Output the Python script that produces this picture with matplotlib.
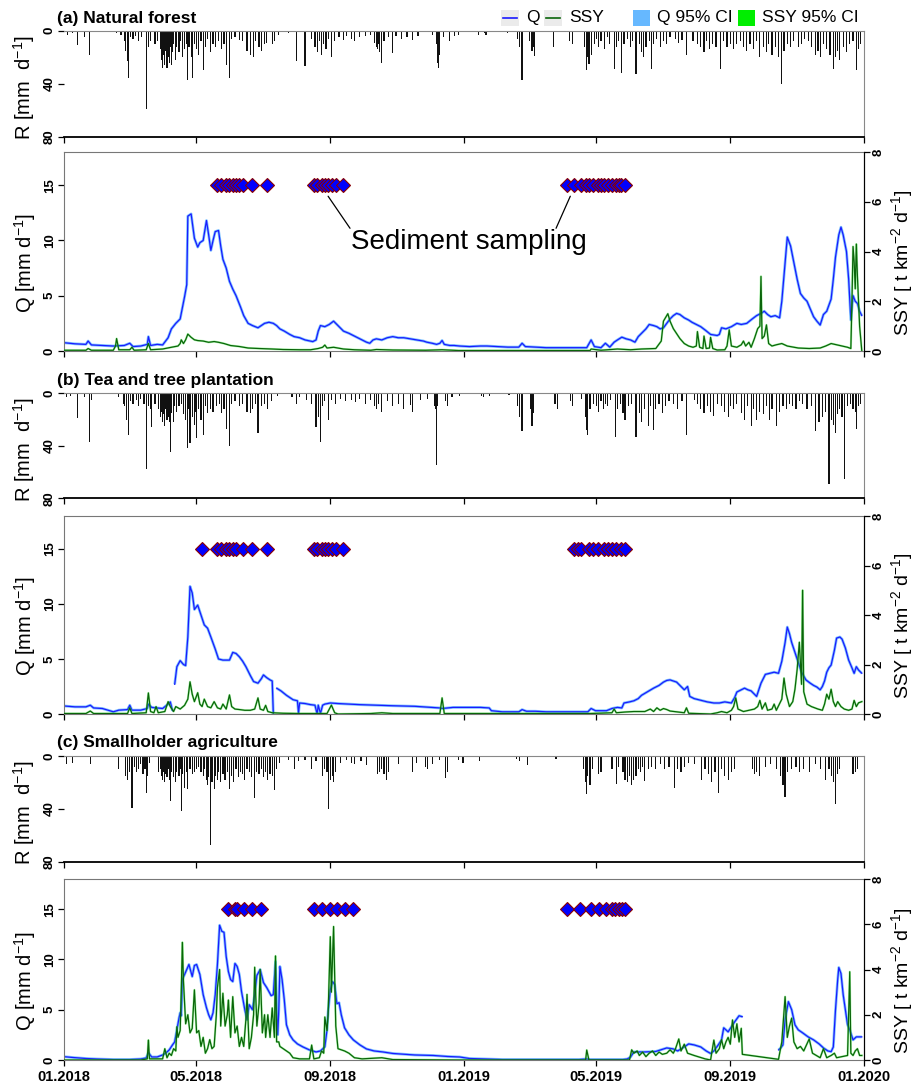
import numpy as np
import matplotlib
matplotlib.use('Agg')
import matplotlib.pyplot as plt
import matplotlib.dates as mdates
from matplotlib.lines import Line2D
from matplotlib.patches import Rectangle

plt.rcParams['font.family'] = ['Liberation Sans', 'DejaVu Sans']
plt.rcParams['mathtext.fontset'] = 'custom'
plt.rcParams['mathtext.rm'] = 'Liberation Sans'
plt.rcParams['mathtext.it'] = 'Liberation Sans:italic'
plt.rcParams['mathtext.bf'] = 'Liberation Sans:bold'

# ---------------- data: (day since 01.01.2018, value) ----------------
titles = ['(a) Natural forest', '(b) Tea and tree plantation', '(c) Smallholder agriculture']

rain_a = [(3,3),(8,2),(12,11),(19,5),(23,18),(48,2),(52,3),(55,8),(56,15),(58,23),(59,36),(61,5),(63,6),(65,4),(68,8),(71,5),
          (75,59),(77,12),(79,8),(83,10),(85,8),(88,14),(89,22),(90,28),(91,18),(92,26),(93,15),(94,28),(95,20),(96,24),(97,12),
          (98,26),(99,16),(100,10),(102,22),(103,12),(105,16),(106,8),(108,20),(110,14),(112,10),(113,37),(114,12),(116,20),
          (117,36),(119,10),(121,14),(123,18),(125,8),(127,30),(129,12),(131,6),(134,16),(136,10),(138,12),(141,8),(144,14),
          (146,10),(148,26),(151,36),(153,6),(156,5),(160,7),(163,8),(167,15),(170,18),(173,20),(175,8),(178,12),(180,15),
          (183,10),(185,9),(190,10),(192,8),(196,3),(205,2),(212,23),(220,27),(226,6),(229,12),(231,16),(233,8),(235,18),
          (237,10),(239,14),(241,6),(244,20),(247,8),(251,5),(255,7),(258,4),(262,6),(265,8),(270,5),(275,4),(280,3),(283,9),
          (285,12),(286,14),(287,10),(288,16),(290,24),(292,8),(296,5),(300,17),(303,4),(308,6),(313,5),(318,7),(323,4),
          (336,3),(340,10),(341,24),(342,28),(343,18),(346,5),(352,8),(356,4),(360,3),(378,3),(384,2),(385,3),(400,1),(405,2),
          (414,6),(416,12),(418,37),(425,8),(427,15),(428,12),(429,19),(447,12),(461,8),(464,10),(475,12),(477,30),(478,20),
          (479,25),(481,18),(484,10),(486,6),(488,12),(490,8),(493,14),(496,5),(498,10),(502,29),(504,12),(506,8),(509,32),
          (511,10),(514,6),(517,12),(519,8),(522,33),(525,10),(527,16),(529,20),(531,12),(534,8),(536,29),(538,10),(541,6),
          (544,12),(547,8),(550,10),(553,5),(558,6),(561,9),(564,7),(568,18),(574,8),(578,10),(581,12),(584,16),(586,8),
          (589,14),(592,10),(595,12),(599,29),(602,8),(605,12),(608,10),(611,14),(614,10),(617,8),(620,12),(623,15),(626,10),
          (629,14),(632,8),(635,20),(638,12),(641,16),(643,10),(646,18),(649,12),(652,20),(655,40),(657,15),(660,10),(663,12),
          (666,8),(670,12),(673,10),(676,6),(679,8),(682,12),(686,18),(688,15),(690,20),(693,10),(696,14),(699,18),(702,29),
          (704,20),(706,15),(708,22),(711,12),(714,16),(717,10),(720,8),(723,30),(725,14),(727,10)]

rain_b = [(2,3),(6,2),(12,19),(19,3),(23,37),(25,5),(50,3),(54,8),(55,10),(57,20),(59,32),(61,6),(63,8),(66,5),(68,10),(70,4),
          (73,8),(75,58),(77,10),(79,12),(80,26),(83,8),(86,12),(88,18),(89,14),(90,22),(91,16),(92,25),(93,12),(94,20),(95,18),
          (96,22),(97,45),(98,15),(100,22),(101,10),(103,14),(105,10),(107,8),(109,16),(111,20),(113,42),(114,12),(115,38),
          (117,18),(119,24),(120,14),(121,34),(123,12),(125,20),(127,32),(129,10),(131,15),(134,12),(136,14),(139,10),(142,8),
          (144,15),(146,12),(148,27),(151,40),(153,8),(156,6),(160,10),(163,8),(167,14),(170,15),(172,12),(175,8),(177,30),
          (180,10),(183,8),(186,12),(189,6),(195,2),(208,3),(212,8),(215,3),(221,5),(226,8),(230,26),(232,18),(234,37),(236,10),
          (238,6),(241,20),(244,5),(248,8),(252,4),(257,6),(262,5),(266,7),(270,4),(275,8),(280,5),(283,10),(285,12),(287,8),
          (290,14),(295,6),(300,10),(305,8),(310,12),(316,9),(318,14),(325,5),(332,4),(338,10),(339,12),(340,55),(341,10),
          (348,6),(350,10),(354,3),(361,2),(381,2),(383,3),(388,2),(406,1),(414,10),(416,18),(418,29),(426,12),(427,25),(428,15),
          (448,8),(450,12),(462,6),(464,10),(472,4),(476,18),(477,28),(478,32),(480,12),(483,8),(486,10),(488,14),(490,6),
          (492,12),(494,8),(496,10),(499,5),(503,33),(505,12),(508,8),(510,15),(512,20),(515,10),(518,8),(522,33),(525,15),
          (527,22),(530,12),(533,25),(535,10),(538,28),(540,12),(543,8),(546,15),(549,10),(552,6),(556,8),(560,12),(564,6),
          (568,32),(575,5),(578,8),(581,12),(584,15),(587,10),(590,14),(593,17),(596,8),(600,10),(603,14),(606,18),(608,10),
          (611,12),(614,8),(618,15),(621,20),(624,10),(627,25),(629,12),(632,20),(635,14),(638,16),(641,10),(644,20),(646,12),
          (650,25),(653,14),(656,10),(659,12),(662,8),(665,10),(668,12),(671,6),(674,8),(678,12),(682,10),(686,29),(689,22),
          (692,18),(695,14),(698,69),(700,20),(702,24),(704,30),(706,16),(708,12),(710,18),(712,65),(715,10),(718,8),(720,12),
          (722,14),(723,27),(725,10),(727,8)]

rain_c = [(2,6),(8,5),(24,6),(50,10),(56,15),(58,18),(60,12),(62,39),(64,8),(66,12),(68,10),(70,6),(72,14),(74,10),(75,28),
          (76,15),(78,5),(86,12),(88,10),(89,15),(90,18),(91,12),(92,20),(93,14),(94,16),(95,10),(96,18),(97,34),(98,12),
          (100,16),(102,20),(103,12),(105,15),(106,10),(107,42),(108,14),(110,24),(112,12),(113,25),(115,10),(117,14),(119,12),
          (121,10),(123,8),(125,12),(127,15),(128,10),(130,18),(131,22),(132,16),(134,67),(135,20),(137,25),(138,15),(140,18),
          (141,12),(143,20),(145,14),(147,18),(149,12),(151,25),(153,15),(155,20),(157,10),(159,16),(161,12),(163,14),(165,18),
          (167,10),(169,12),(171,16),(174,32),(176,12),(178,14),(180,10),(182,16),(184,12),(186,18),(188,14),(190,15),(192,26),
          (194,10),(197,5),(205,3),(210,10),(214,4),(220,3),(226,10),(230,4),(236,15),(238,10),(240,12),(241,40),(243,18),
          (245,15),(246,20),(248,12),(252,5),(258,3),(262,5),(265,6),(271,4),(276,7),(286,14),(288,12),(290,10),(292,14),
          (294,18),(296,12),(305,6),(318,12),(322,5),(330,8),(332,10),(336,6),(343,3),(348,17),(350,12),(360,3),(364,5),(379,4),
          (413,2),(416,4),(423,7),(449,2),(474,10),(476,20),(477,29),(478,15),(480,22),(482,10),(488,14),(490,12),(500,10),
          (504,21),(506,8),(510,12),(512,18),(514,20),(516,15),(518,22),(520,18),(522,15),(524,10),(526,12),(528,8),(530,19),
          (533,10),(536,8),(540,10),(544,6),(548,10),(552,8),(557,24),(560,10),(563,12),(566,8),(570,5),(575,6),(582,18),
          (585,10),(588,14),(591,20),(594,12),(597,28),(600,10),(603,15),(606,18),(609,12),(612,10),(628,10),(630,14),(632,12),
          (635,15),(640,8),(645,6),(650,10),(654,15),(656,22),(658,31),(660,12),(664,10),(668,8),(671,12),(675,10),(680,12),
          (686,6),(690,10),(695,18),(698,10),(700,15),(702,20),(704,36),(706,14),(708,10),(720,14),(722,12),(724,10)]

q_a = [(0,0.75),(10,0.65),(20,0.6),(22,0.9),(25,0.55),(35,0.5),(45,0.45),(55,0.5),(60,0.7),(63,0.4),(70,0.45),(76,0.6),
       (77,1.3),(79,0.5),(85,0.6),(90,0.55),(95,1.2),(98,2.0),(102,2.5),(106,2.9),(108,3.9),(110,4.9),(112,6.0),(113,12.2),
       (116,12.4),(119,10.2),(122,9.4),(124,9.8),(127,10.0),(130,11.8),(132,10.5),(134,9.1),(136,10.0),(138,10.8),(141,10.9),
       (143,9.5),(145,8.3),(148,7.5),(151,6.3),(154,5.6),(157,5.0),(161,4.0),(164,3.2),(168,2.5),(172,2.3),(177,2.1),(180,2.3),
       (183,2.5),(187,2.6),(191,2.5),(194,2.3),(197,2.0),(201,1.8),(206,1.5),(210,1.3),(215,1.2),(220,1.0),(227,0.85),(230,1.0),
       (232,1.8),(234,2.3),(238,2.2),(242,2.4),(246,2.7),(250,2.3),(255,1.8),(260,1.6),(264,1.4),(268,1.2),(272,1.0),(276,0.8),
       (279,0.7),(282,1.0),(285,1.1),(290,1.0),(295,1.2),(300,1.3),(305,1.2),(310,1.2),(316,1.1),(322,1.0),(328,0.9),(331,0.8),
       (336,0.7),(340,0.6),(343,0.7),(345,0.95),(347,0.6),(352,0.5),(356,0.5),(361,0.45),(370,0.4),(380,0.45),(386,0.45),
       (395,0.4),(405,0.35),(415,0.35),(418,0.7),(421,0.4),(430,0.35),(440,0.3),(447,0.3),(460,0.3),(470,0.3),(477,0.3),
       (481,1.0),(484,0.4),(490,0.3),(494,0.7),(498,0.35),(502,0.8),(505,1.0),(509,1.25),(513,1.1),(517,1.0),(521,0.8),
       (524,1.3),(527,1.6),(531,2.0),(534,2.4),(538,2.3),(541,2.2),(544,2.0),(547,2.1),(550,2.5),(553,2.9),(556,3.2),
       (559,3.4),(562,3.3),(566,3.0),(570,2.8),(573,2.6),(577,2.4),(581,2.2),(585,1.9),(590,1.5),(596,1.4),(598,1.5),
       (600,2.1),(604,2.0),(609,2.2),(614,2.5),(618,2.4),(623,2.5),(628,2.9),(632,3.2),(636,3.4),(639,3.6),(642,3.3),
       (645,3.1),(649,3.2),(653,3.0),(655,4.5),(658,8.0),(660,10.3),(663,9.5),(666,8.0),(669,6.5),(672,5.2),(675,4.8),
       (678,4.5),(681,3.8),(684,3.1),(687,2.7),(690,2.35),(693,3.3),(696,3.6),(700,4.7),(702,6.5),(704,8.5),(707,10.5),
       (709,11.2),(711,10.5),(714,9.0),(716,6.5),(718,2.8),(720,5.0),(722,4.5),(724,4.3),(726,3.6),(728,3.2)]

ssy_a = [(0,0.03),(20,0.03),(22,0.1),(25,0.03),(45,0.03),(47,0.2),(48,0.5),(50,0.05),(60,0.05),(62,0.15),(64,0.03),
         (75,0.05),(77,0.3),(79,0.05),(90,0.08),(98,0.15),(104,0.2),(106,0.3),(107,0.45),(109,0.3),(111,0.45),(113,0.68),
         (116,0.55),(119,0.45),(122,0.42),(127,0.4),(132,0.35),(137,0.38),(141,0.35),(146,0.3),(152,0.22),(160,0.18),
         (168,0.12),(178,0.1),(190,0.08),(200,0.06),(215,0.05),(225,0.05),(232,0.1),(236,0.15),(238,0.24),(240,0.12),
         (246,0.15),(255,0.08),(265,0.05),(280,0.03),(285,0.06),(300,0.04),(330,0.03),(345,0.05),(360,0.02),(400,0.02),
         (480,0.02),(481,0.08),(490,0.03),(505,0.08),(517,0.05),(527,0.08),(540,0.1),(545,0.4),(547,1.2),(549,1.35),
         (551,1.5),(553,1.2),(556,0.9),(559,0.7),(562,0.5),(566,0.3),(570,0.2),(574,0.15),(577,0.2),(578,0.78),(580,0.15),
         (583,0.1),(584,0.6),(586,0.1),(589,0.12),(590,0.55),(592,0.1),(596,0.04),(603,0.05),(605,0.2),(607,0.85),(609,0.2),
         (614,0.15),(618,0.25),(620,0.4),(622,0.2),(625,0.35),(627,0.15),(630,0.5),(633,0.9),(635,1.0),(636,3.0),(637,0.5),
         (639,0.6),(641,1.05),(643,0.3),(646,0.2),(650,0.25),(655,0.3),(660,0.2),(670,0.12),(680,0.1),(690,0.12),(695,0.2),
         (700,0.3),(705,0.25),(710,0.2),(715,0.15),(718,0.1),(719,2.0),(720,4.2),(721,3.6),(722,2.5),(723,4.3),(724,3.0),
         (726,1.0),(728,0.0)]

q_b = [(0,0.73),(10,0.65),(20,0.65),(24,0.8),(27,0.55),(35,0.5),(45,0.2),(50,0.35),(58,0.4),(60,0.8),(62,0.35),(70,0.35),
       (76,0.5),(77,0.9),(80,0.6),(85,0.55),(90,0.5),(95,0.9),(97,1.1),(99,0.3),(100,np.nan),(101,2.7),(103,4.3),(106,4.85),
       (109,4.5),(111,4.4),(113,7.0),(115,11.6),(117,11.0),(119,9.5),(122,9.9),(124,9.3),(126,8.7),(128,8.1),(131,7.8),
       (134,7.0),(138,5.9),(141,5.0),(145,4.9),(148,4.9),(151,4.9),(154,5.6),(157,5.5),(160,5.2),(163,4.8),(166,4.3),
       (170,3.5),(173,2.95),(177,2.8),(180,3.2),(182,3.55),(185,3.3),(188,3.1),(190,3.0),(191,0.05),(192,np.nan),(194,2.35),
       (198,2.1),(203,1.7),(209,1.3),(213,1.2),(214,0.1),(215,1.0),(220,0.95),(225,0.85),(229,0.8),(231,0.0),(232,0.8),
       (234,0.05),(236,0.8),(238,0.9),(243,1.0),(250,0.95),(260,0.9),(270,0.85),(285,0.8),(300,0.75),(320,0.7),(335,0.6),
       (343,0.55),(345,0.5),(355,0.6),(365,0.6),(380,0.6),(388,0.55),(390,0.3),(400,0.2),(415,0.2),(418,0.4),(422,0.25),
       (430,0.25),(440,0.2),(460,0.2),(478,0.2),(481,0.5),(485,0.3),(495,0.3),(500,0.5),(505,0.6),(509,0.55),(511,1.0),
       (516,1.1),(520,1.2),(524,1.4),(527,1.7),(532,2.0),(538,2.35),(543,2.6),(547,2.9),(550,3.05),(553,3.1),(556,3.0),
       (559,2.9),(563,2.5),(566,2.2),(569,2.5),(571,1.6),(575,1.4),(581,1.25),(587,1.1),(593,1.0),(598,1.0),(603,1.1),
       (609,1.0),(612,1.5),(614,2.0),(618,2.2),(621,2.35),(624,2.2),(627,2.1),(630,1.8),(632,1.6),(636,2.8),(640,3.6),
       (644,3.7),(648,3.8),(652,3.7),(655,4.8),(658,6.5),(660,7.9),(662,7.3),(664,6.5),(667,5.6),(669,5.0),(673,3.8),
       (677,3.1),(681,2.8),(684,2.6),(687,2.45),(690,2.2),(692,2.5),(694,3.0),(696,3.8),(698,4.2),(700,4.45),(703,5.8),
       (705,6.9),(708,7.0),(710,6.8),(713,6.0),(716,4.9),(719,4.2),(721,3.7),(723,4.3),(725,4.0),(728,3.7)]

ssy_b = [(0,0.02),(20,0.02),(24,0.12),(27,0.02),(58,0.02),(60,0.25),(62,0.02),(75,0.05),(77,0.85),(79,0.1),(82,0.05),
         (84,0.3),(86,0.05),(92,0.1),(95,0.5),(97,0.3),(100,0.1),(102,0.3),(106,0.2),(110,0.35),(113,0.6),(115,1.3),(117,0.8),
         (119,0.5),(122,0.86),(124,0.4),(126,0.3),(128,0.6),(131,0.3),(134,0.25),(137,0.5),(140,0.25),(143,0.2),(145,0.4),
         (148,0.2),(151,0.77),(153,0.3),(156,0.2),(160,0.18),(165,0.15),(170,0.15),(174,0.2),(177,0.65),(179,0.2),(182,0.15),
         (184,0.35),(186,0.1),(190,0.05),(200,0.03),(215,0.02),(240,0.02),(244,0.36),(247,0.05),(250,0.0),(280,0.02),
         (290,0.05),(300,0.02),(343,0.02),(345,0.65),(347,0.02),(360,0.02),(480,0.02),(500,0.05),(502,0.2),(504,0.05),
         (512,0.08),(520,0.1),(530,0.1),(535,0.2),(538,0.1),(541,0.25),(544,0.15),(547,0.22),(550,0.18),(553,0.12),(560,0.08),
         (566,0.05),(568,0.25),(570,0.03),(590,0.0),(596,0.05),(600,0.1),(605,0.05),(609,0.15),(611,0.3),(613,0.65),(615,0.2),
         (620,0.1),(625,0.15),(630,0.2),(633,0.3),(635,0.55),(637,0.2),(640,0.45),(642,0.15),(646,0.2),(648,0.4),(650,0.15),
         (655,0.6),(657,1.45),(659,0.8),(662,0.3),(665,0.5),(667,1.0),(669,1.8),(671,2.9),(673,1.2),(674,5.0),(675,0.9),
         (678,0.4),(682,0.3),(688,0.2),(692,0.15),(694,0.4),(696,0.8),(698,0.6),(700,1.0),(702,0.5),(704,0.3),(706,0.5),
         (709,0.3),(712,0.2),(716,0.15),(719,0.2),(721,0.55),(723,0.3),(725,0.45),(728,0.5)]

q_c = [(0,0.33),(8,0.25),(20,0.15),(30,0.1),(45,0.05),(60,0.05),(70,0.1),(75,0.2),(77,0.73),(80,0.3),(85,0.3),(90,0.5),
       (93,0.7),(96,1.0),(99,1.5),(101,1.8),(103,3.0),(105,4.2),(106,4.7),(107,4.4),(108,8.0),(110,8.5),(112,9.0),(114,9.5),
       (117,8.3),(119,9.4),(121,9.5),(124,8.5),(127,6.5),(130,5.2),(132,4.5),(134,4.0),(136,4.7),(138,6.5),(140,9.5),
       (142,13.4),(144,12.8),(146,12.7),(148,10.3),(150,8.8),(152,8.0),(154,7.8),(156,9.6),(158,9.3),(160,8.5),(162,6.8),
       (165,5.0),(167,4.0),(169,5.5),(172,5.0),(174,6.5),(176,8.4),(179,9.0),(182,7.7),(185,7.2),(187,6.8),(189,6.4),
       (191,6.5),(193,9.8),(194,5.0),(195,2.5),(196,5.0),(197,9.3),(199,8.0),(201,6.0),(203,3.5),(206,2.5),(209,2.0),
       (213,1.6),(218,1.3),(224,1.0),(230,0.8),(234,0.9),(236,1.1),(238,1.3),(240,3.0),(241,4.8),(243,7.0),(245,7.8),
       (247,7.5),(249,5.6),(251,5.7),(253,4.5),(256,3.2),(260,2.5),(264,2.0),(270,1.5),(276,1.1),(283,0.9),(291,0.8),
       (300,0.65),(307,0.6),(320,0.5),(337,0.45),(350,0.35),(361,0.3),(370,0.15),(386,0.1),(400,0.05),(470,0.05),(477,0.1),
       (480,0.05),(510,0.05),(514,0.1),(517,0.3),(520,0.8),(530,0.8),(540,0.85),(550,1.2),(556,1.1),(560,0.9),(566,1.3),
       (570,1.6),(575,1.5),(581,1.3),(586,0.9),(590,0.65),(593,0.9),(597,1.5),(600,2.0),(602,3.2),(606,2.8),(609,3.3),
       (612,3.8),(616,4.4),(619,4.3),(635,np.nan),(652,1.0),(654,1.2),(656,1.5),(658,4.0),(661,5.8),(664,5.0),(667,3.5),
       (670,3.0),(674,2.7),(679,2.3),(684,2.0),(689,1.6),(693,1.2),(697,0.9),(700,0.83),(702,1.3),(704,5.0),(706,8.0),
       (707,9.2),(709,8.6),(711,6.5),(713,5.0),(715,3.5),(717,3.0),(720,2.0),(723,2.3),(726,2.3),(728,2.3)]

ssy_c = [(0,0.0),(70,0.0),(76,0.05),(77,0.88),(78,0.05),(90,0.05),(92,0.5),(94,0.1),(96,0.3),(98,0.2),(100,0.5),(102,0.4),
         (103,1.47),(104,1.0),(106,1.3),(107,3.0),(108,5.2),(109,3.5),(111,1.6),(113,2.0),(115,1.2),(117,1.4),(119,3.1),
         (121,1.2),(123,1.3),(125,0.6),(127,1.0),(129,0.3),(131,0.5),(133,0.9),(135,0.5),(137,0.6),(139,2.0),(140,3.2),
         (142,4.0),(143,1.5),(145,2.95),(147,1.5),(149,2.0),(150,2.65),(152,1.0),(154,2.8),(156,1.2),(158,1.5),(160,0.6),
         (162,1.0),(164,0.6),(166,1.8),(167,2.9),(169,0.5),(171,1.0),(173,2.0),(174,4.1),(176,1.5),(178,2.5),(179,4.0),
         (181,1.2),(183,2.0),(184,1.0),(186,2.0),(188,1.0),(190,2.3),(192,1.0),(193,4.6),(194,0.8),(196,0.8),(197,0.6),
         (200,0.5),(203,0.4),(206,0.3),(209,0.1),(215,0.05),(224,0.05),(226,0.66),(228,0.05),(233,0.1),(235,0.4),(237,0.3),
         (238,1.9),(240,1.3),(241,2.0),(243,5.45),(244,3.0),(246,5.9),(248,1.5),(250,0.5),(253,0.45),(256,0.4),(260,0.3),
         (265,0.1),(272,0.05),(290,0.1),(300,0.02),(360,0.0),(476,0.0),(477,0.44),(479,0.0),(516,0.0),(518,0.45),(520,0.3),
         (523,0.4),(525,0.2),(528,0.35),(531,0.15),(534,0.3),(537,0.4),(540,0.2),(543,0.35),(546,0.25),(550,0.3),(553,0.45),
         (556,0.3),(558,0.5),(561,0.93),(563,0.4),(566,0.7),(569,0.3),(575,0.2),(585,0.05),(590,0.0),(593,0.88),(595,0.3),
         (598,0.5),(600,0.9),(602,0.5),(604,0.8),(606,1.0),(608,0.7),(610,1.77),(612,1.0),(614,1.6),(616,0.8),(618,1.4),
         (619,0.25),(652,0.03),(655,0.8),(658,2.8),(660,1.0),(662,1.5),(664,1.85),(666,0.8),(669,0.5),(672,0.6),(675,0.4),
         (680,0.93),(683,0.3),(690,0.1),(693,0.5),(696,0.1),(700,0.2),(703,0.3),(705,0.1),(710,0.15),(715,0.2),(717,3.9),
         (718,0.3),(720,0.2),(722,0.4),(724,0.5),(726,0.2),(728,0.2)]

# sediment sampling dates (days since 01.01.2018), drawn at Q = 15
samp_a = [140, 143, 148, 151, 154, 157, 160, 163, 172, 185, 228, 231, 235, 238, 241, 245, 248, 255,
          459, 465, 472, 476, 479, 483, 487, 490, 493, 496, 500, 504, 506, 508, 512]
samp_b = [126, 140, 143, 148, 151, 154, 157, 163, 172, 185, 228, 231, 235, 238, 241, 245, 248, 255,
          465, 469, 472, 479, 483, 487, 493, 496, 500, 504, 508, 512]
samp_c = [150, 156, 158, 164, 172, 180, 228, 235, 243, 249, 256, 264,
          459, 471, 481, 488, 495, 500, 503, 506, 509, 512]
samp_level = 15

tick_dates = ['2018-01-01', '2018-05-01', '2018-09-01', '2019-01-01', '2019-05-01', '2019-09-01', '2020-01-01']

# ---------------- figure ----------------
W, H = 914, 1085
fig = plt.figure(figsize=(W / 100, H / 100), dpi=100)
t0 = mdates.date2num(np.datetime64('2018-01-01'))
t1 = mdates.date2num(np.datetime64('2020-01-01'))
xt = [mdates.date2num(np.datetime64(d)) for d in tick_dates]


def split(pairs):
    a = np.array(pairs, dtype=float)
    return t0 + a[:, 0], a[:, 1]


def add_px_axes(top, bottom, left=64, right=864):
    return fig.add_axes([left / W, 1 - bottom / H, (right - left) / W, (bottom - top) / H])


rain_boxes = [(30.7, 136.7), (393.3, 498.3), (756, 861.7)]
q_boxes = [(152, 351), (516, 714), (879, 1060)]
title_y = [22.5, 384.5, 747]
sites = [(rain_a, q_a, ssy_a, samp_a), (rain_b, q_b, ssy_b, samp_b), (rain_c, q_c, ssy_c, samp_c)]

tick_kw = dict(length=4, width=0.9, color='black')
for i, (rain, q, ssy, samp) in enumerate(sites):
    # rainfall panel
    ax_r = add_px_axes(*rain_boxes[i])
    rx, ry = split(rain)
    ax_r.bar(rx, ry, width=1.1, color='#111111', linewidth=0)
    ax_r.set_xlim(t0, t1)
    ax_r.set_ylim(80, 0)
    ax_r.set_yticks([0, 40, 80])
    ax_r.set_xticks(xt)
    ax_r.tick_params(axis='x', labelbottom=False, **tick_kw)
    ax_r.tick_params(axis='y', labelsize=9.5, labelrotation=90, pad=2, **tick_kw)
    for lab in ax_r.get_yticklabels():
        lab.set_fontweight('bold')
        lab.set_va('center')
    ax_r.spines['left'].set_visible(False)
    ax_r.spines['top'].set_color('#888888')
    ax_r.spines['right'].set_color('#888888')
    ax_r.spines['bottom'].set_linewidth(1.3)
    fig.text(57 / W, 1 - title_y[i] / H, titles[i], fontsize=12.5, fontweight='bold', va='baseline')
    ry0, ry1 = rain_boxes[i]
    fig.text(24 / W, 1 - (ry0 + ry1 + 8) / 2 / H, r'R [mm  d$^{-1}$]', rotation=90,
             ha='center', va='center', fontsize=14.5)

    # discharge / sediment yield panel
    ax_q = add_px_axes(*q_boxes[i])
    qx, qy = split(q)
    ax_q.plot(qx, qy, color='#80c4ff', lw=2.0, solid_capstyle='butt')
    ax_q.plot(qx, qy, color='#1a1aff', lw=0.9)
    sx = t0 + np.array(samp, dtype=float)
    ax_q.plot(sx, np.full(len(sx), samp_level), linestyle='none', marker='D', markersize=7,
              markerfacecolor='#0000ff', markeredgecolor='#8b0000', markeredgewidth=0.8, zorder=5)
    ax_q.set_xlim(t0, t1)
    ax_q.set_ylim(0, 18)
    ax_q.set_yticks([0, 5, 10, 15])
    ax_q.set_xticks(xt)
    ax_q.xaxis.set_major_formatter(mdates.DateFormatter('%m.%Y'))
    ax_q.tick_params(axis='x', labelbottom=(i == 2), labelsize=10.5, pad=3, **tick_kw)
    ax_q.tick_params(axis='y', labelsize=9.5, labelrotation=90, pad=2, **tick_kw)
    for lab in ax_q.get_yticklabels() + ax_q.get_xticklabels():
        lab.set_fontweight('bold')
    for lab in ax_q.get_yticklabels():
        lab.set_va('center')
    for s in ['top', 'left', 'bottom']:
        ax_q.spines[s].set_color('#777777')

    ax_s = ax_q.twinx()
    sxx, syy = split(ssy)
    ax_s.plot(sxx, syy, color='#33ee33', lw=1.6, alpha=0.4)
    ax_s.plot(sxx, syy, color='#0a640a', lw=0.9)
    ax_s.set_ylim(0, 8)
    ax_s.set_yticks([0, 2, 4, 6, 8])
    ax_s.tick_params(axis='y', labelsize=9.5, labelrotation=90, pad=2, **tick_kw)
    for lab in ax_s.get_yticklabels():
        lab.set_fontweight('bold')
        lab.set_va('center')
    for s in ['top', 'left', 'bottom']:
        ax_s.spines[s].set_visible(False)

    qy0, qy1 = q_boxes[i]
    yc = (qy0 + qy1) / 2 + 11
    fig.text(25 / W, 1 - yc / H, r'Q [mm d$^{-1}$]', rotation=90, ha='center', va='center', fontsize=14.5)
    fig.text(902 / W, 1 - yc / H, r'SSY [ t km$^{-2}$ d$^{-1}$]', rotation=90, ha='center', va='center',
             fontsize=14)

    if i == 0:
        ax_q.text(t0 + 369, 9.9, 'Sediment sampling', ha='center', va='center', fontsize=20)
        ax_q.annotate('', xy=(t0 + 241, 14.0), xytext=(t0 + 261, 11.1),
                      arrowprops=dict(arrowstyle='-', color='black', lw=0.9, shrinkA=0, shrinkB=0))
        ax_q.annotate('', xy=(t0 + 462, 14.0), xytext=(t0 + 449, 11.1),
                      arrowprops=dict(arrowstyle='-', color='black', lw=0.9, shrinkA=0, shrinkB=0))

# ---------------- legend (top right) ----------------
leg_y = 1 - 17.5 / H
box_h = 16 / H
fig.add_artist(Rectangle((501 / W, leg_y - box_h / 2), 18 / W, box_h, transform=fig.transFigure,
                         facecolor='#ebebeb', edgecolor='none'))
fig.add_artist(Line2D([503 / W, 517 / W], [leg_y, leg_y], transform=fig.transFigure, color='#1a1aff', lw=1.2))
fig.text(526 / W, leg_y, 'Q', va='center', fontsize=12.5)
fig.add_artist(Rectangle((544 / W, leg_y - box_h / 2), 18 / W, box_h, transform=fig.transFigure,
                         facecolor='#ebebeb', edgecolor='none'))
fig.add_artist(Line2D([546 / W, 560 / W], [leg_y, leg_y], transform=fig.transFigure, color='#0a640a', lw=1.2))
fig.text(569 / W, leg_y, 'SSY', va='center', fontsize=12.5)
fig.add_artist(Rectangle((633 / W, leg_y - box_h / 2), 17 / W, box_h, transform=fig.transFigure,
                         facecolor='#66b8ff', edgecolor='none'))
fig.text(657 / W, leg_y, 'Q 95% CI', va='center', fontsize=12.5)
fig.add_artist(Rectangle((738 / W, leg_y - box_h / 2), 17 / W, box_h, transform=fig.transFigure,
                         facecolor='#00ee00', edgecolor='none'))
fig.text(762 / W, leg_y, 'SSY 95% CI', va='center', fontsize=12.5)

fig.savefig('out.png', dpi=100)
